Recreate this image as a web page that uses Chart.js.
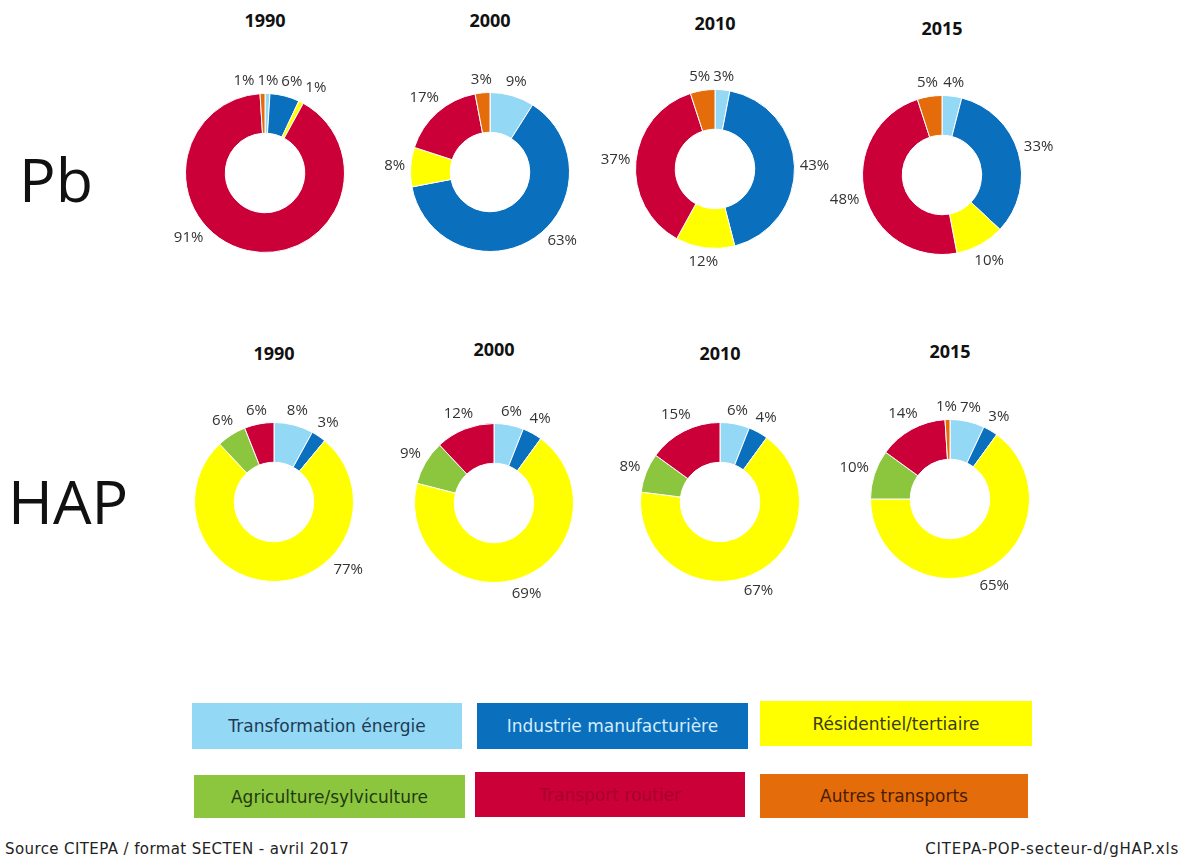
<!DOCTYPE html>
<html>
<head>
<meta charset="utf-8">
<script src="https://cdn.jsdelivr.net/npm/chart.js@4/dist/chart.umd.min.js"></script>
<style>
  body { margin: 0; background: #fff; width: 1184px; height: 861px; position: relative; overflow: hidden; font-family: "DejaVu Sans", sans-serif; }
  .year { position: absolute; transform: translateX(-50%); font: bold 18px "Open Sans", sans-serif; color: #111; }
  .row { position: absolute; font: 61px "Open Sans", sans-serif; color: #111; }
  .box { position: absolute; display: flex; align-items: center; justify-content: center; font-size: 17px; }
  .foot { position: absolute; font-size: 15px; color: #222; }
  canvas { position: absolute; }
</style>
</head>
<body>
<div class="row" style="left:19px; top:137px;">Pb</div>
<div class="row" style="left:8px; top:459px;">HAP</div>
<div id="charts"></div>
<div id="legend"></div>
<div class="foot" style="left:5px; top:840px; letter-spacing:0.4px;">Source CITEPA / format SECTEN - avril 2017</div>
<div class="foot" style="right:5px; top:840px; letter-spacing:0.8px;">CITEPA-POP-secteur-d/gHAP.xls</div>

<script>
// ==========================
// DATA
// ==========================
const sectors = ["Transformation énergie", "Industrie manufacturière", "Résidentiel/tertiaire",
                 "Agriculture/sylviculture", "Transport routier", "Autres transports"];
const years = ["1990", "2000", "2010", "2015"];

// parts en %, dans l'ordre des secteurs
const pb1990 = [1, 6, 1, 0, 91, 1];
const pb2000 = [9, 63, 8, 0, 17, 3];
const pb2010 = [3, 43, 12, 0, 37, 5];
const pb2015 = [4, 33, 10, 0, 48, 5];

const hap1990 = [8, 3, 77, 6, 6, 0];
const hap2000 = [6, 4, 69, 9, 12, 0];
const hap2010 = [6, 4, 67, 8, 15, 0];
const hap2015 = [7, 3, 65, 10, 14, 1];

// ==========================
// STYLE
// ==========================
const colors = ["#93d8f4", "#0a6fbd", "#ffff00", "#8cc63f", "#cc0038", "#e46c0a"];
const legendText = ["#1f3b58", "#d4ecfa", "#3b3b12", "#1f3a10", "#a8002c", "#4a1c00"];

const SIZE = 260;
const PAD = 50;

// turn = rotation (degrés) de l'étiquette d'une part, comme le "meilleur ajustement" d'Excel
const charts = [
  { data: pb1990, cx: 265, cy: 173, titleY: 8, turn: { 4: 37 } },
  { data: pb2000, cx: 490, cy: 172, titleY: 8, turn: { 1: -12 } },
  { data: pb2010, cx: 715, cy: 169, titleY: 11, turn: {} },
  { data: pb2015, cx: 942, cy: 175, titleY: 16, turn: {} },
  { data: hap1990, cx: 274, cy: 502, titleY: 341, turn: { 2: -46 } },
  { data: hap2000, cx: 494, cy: 503, titleY: 337, turn: {} },
  { data: hap2010, cx: 720, cy: 502, titleY: 341, turn: {} },
  { data: hap2015, cx: 950, cy: 499, titleY: 339, turn: {} }
];

// ==========================
// LABELS HORS ANNEAU
// ==========================
const outsideLabels = {
  id: "outsideLabels",
  afterDatasetsDraw(chart, args, opts) {
    const ctx = chart.ctx;
    const meta = chart.getDatasetMeta(0);
    const values = chart.data.datasets[0].data;
    const turn = opts.turn || {};
    const placed = [];
    ctx.save();
    ctx.font = '15px "Open Sans"';
    ctx.fillStyle = "#333";
    ctx.textAlign = "center";
    ctx.textBaseline = "middle";
    meta.data.forEach((arc, i) => {
      const v = values[i];
      if (!v) return;
      const p = arc.getProps(["x", "y", "startAngle", "endAngle", "outerRadius"], true);
      const mid = (p.startAngle + p.endAngle) / 2 + (turn[i] || 0) * Math.PI / 180;
      const text = v + "%";
      const w = ctx.measureText(text).width;
      const h = 14;
      const dx = Math.cos(mid), dy = Math.sin(mid);
      const dist = p.outerRadius + 5 + Math.abs(dx) * w / 2 + Math.abs(dy) * h / 2;
      let lx = p.x + dx * dist;
      let ly = p.y + dy * dist;
      placed.forEach(b => {
        const need = (w + b.w) / 2 + 3;
        if (Math.abs(lx - b.x) < need && Math.abs(ly - b.y) < (h + b.h) / 2) {
          lx = lx >= b.x ? b.x + need : b.x - need;
        }
      });
      placed.push({ x: lx, y: ly, w, h });
      ctx.fillText(text, lx, ly);
    });
    ctx.restore();
  }
};

// ==========================
// CHARTS
// ==========================
const holder = document.getElementById("charts");

charts.forEach((c, k) => {
  const t = document.createElement("div");
  t.className = "year";
  t.style.left = c.cx + "px";
  t.style.top = c.titleY + "px";
  t.textContent = years[k % 4];
  holder.appendChild(t);

  const cv = document.createElement("canvas");
  cv.width = SIZE;
  cv.height = SIZE;
  cv.style.left = (c.cx - SIZE / 2) + "px";
  cv.style.top = (c.cy - SIZE / 2) + "px";
  holder.appendChild(cv);

  new Chart(cv.getContext("2d"), {
    type: "doughnut",
    data: {
      labels: sectors,
      datasets: [{
        data: c.data,
        backgroundColor: colors,
        borderColor: "#ffffff",
        borderWidth: 1
      }]
    },
    options: {
      responsive: false,
      animation: false,
      cutout: "50%",
      layout: { padding: PAD },
      plugins: {
        legend: { display: false },
        tooltip: { enabled: false },
        outsideLabels: { turn: c.turn }
      }
    },
    plugins: [outsideLabels]
  });
});

// ==========================
// LEGENDE
// ==========================
const legendBoxes = [
  { l: 192, t: 703, w: 270, h: 46 },
  { l: 477, t: 703, w: 271, h: 46 },
  { l: 760, t: 701, w: 272, h: 45 },
  { l: 194, t: 775, w: 271, h: 43 },
  { l: 475, t: 772, w: 270, h: 45 },
  { l: 760, t: 774, w: 268, h: 44 }
];
const legend = document.getElementById("legend");
sectors.forEach((name, s) => {
  const b = legendBoxes[s];
  const d = document.createElement("div");
  d.className = "box";
  d.style.left = b.l + "px";
  d.style.top = b.t + "px";
  d.style.width = b.w + "px";
  d.style.height = b.h + "px";
  d.style.background = colors[s];
  d.style.color = legendText[s];
  d.textContent = name;
  legend.appendChild(d);
});
</script>
</body>
</html>
